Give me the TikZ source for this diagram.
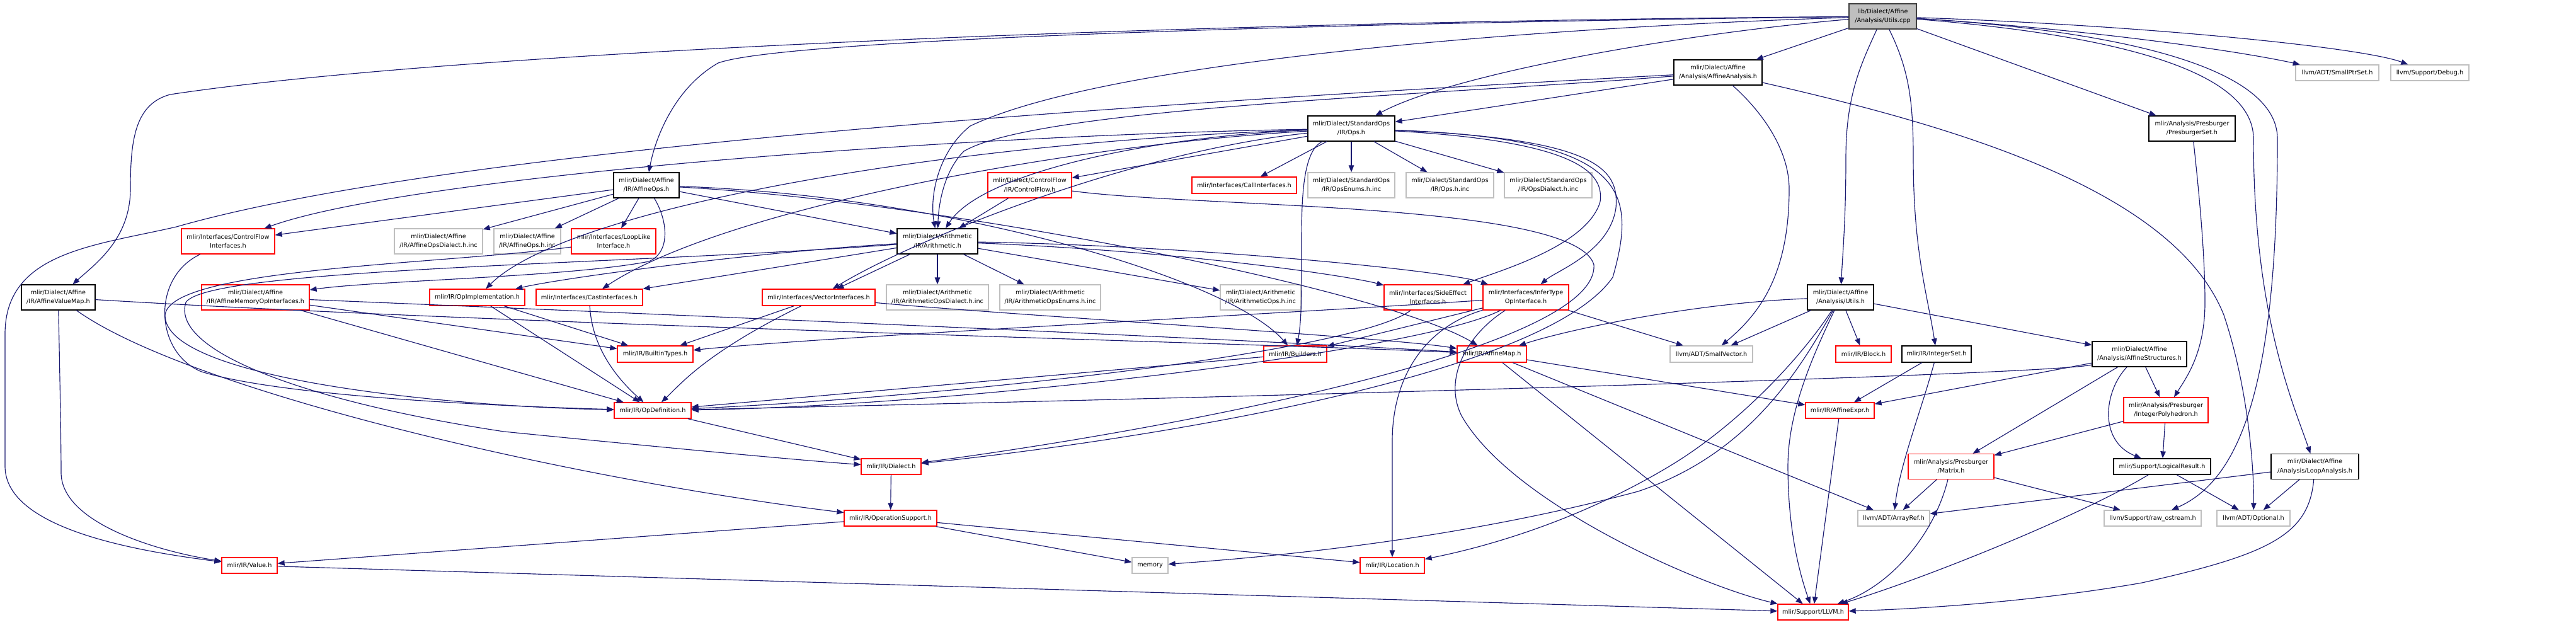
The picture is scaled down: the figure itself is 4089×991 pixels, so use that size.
\documentclass[tikz,border=0pt]{standalone}
\usepackage{fontspec}
\newfontfamily\dx{DejaVu Sans}
\usetikzlibrary{arrows.meta}
\definecolor{edgec}{HTML}{191970}
\definecolor{grayb}{HTML}{BFBFBF}
\definecolor{darkb}{HTML}{404040}
\tikzset{
  nbase/.style={inner sep=0pt, align=center, line width=1.3pt, font=\dx\fontsize{9.7pt}{14.5pt}\selectfont, fill=white},
  nb/.style={nbase, draw=black},
  nr/.style={nbase, draw=red},
  ng/.style={nbase, draw=grayb},
  rootst/.style={nbase, draw=darkb, fill=grayb},
  e/.style={draw=edgec, line width=1.15pt, -{Triangle[length=11pt,width=8.5pt]}, fill=none},
}
\newcommand\mknode[7]{\node[#1, minimum width=#5pt, minimum height=#6pt] (#2) at (#3,#4) {#7};}
\begin{document}
\begin{tikzpicture}[x=1pt,y=-1pt]
\useasboundingbox (0,0) rectangle (4089,991);
% nodes
\mknode{rootst}{R}{2988.5}{26}{107}{40}{lib/Dialect/Affine\\/Analysis/Utils.cpp}
\mknode{nb}{AA}{2727}{115}{140}{40}{mlir/Dialect/Affine\\/Analysis/AffineAnalysis.h}
\mknode{ng}{SPS}{3710}{115.5}{132}{25}{llvm/ADT/SmallPtrSet.h}
\mknode{ng}{DBG}{3857}{115.5}{124}{25}{llvm/Support/Debug.h}
\mknode{nb}{SO}{2145}{204}{138}{40}{mlir/Dialect/StandardOps\\/IR/Ops.h}
\mknode{nb}{PS}{3479.5}{204}{137}{40}{mlir/Analysis/Presburger\\/PresburgerSet.h}
\mknode{nb}{AO}{1026}{294}{104}{40}{mlir/Dialect/Affine\\/IR/AffineOps.h}
\mknode{nr}{CF}{1634.5}{294}{133}{40}{mlir/Dialect/ControlFlow\\/IR/ControlFlow.h}
\mknode{nr}{CI}{1975}{294}{166}{26}{mlir/Interfaces/CallInterfaces.h}
\mknode{ng}{SOE}{2145}{294}{138}{40}{mlir/Dialect/StandardOps\\/IR/OpsEnums.h.inc}
\mknode{ng}{SOI}{2301.5}{294}{139}{40}{mlir/Dialect/StandardOps\\/IR/Ops.h.inc}
\mknode{ng}{SOD}{2457.5}{294}{139}{40}{mlir/Dialect/StandardOps\\/IR/OpsDialect.h.inc}
\mknode{nr}{CFI}{362}{383}{148}{40}{mlir/Interfaces/ControlFlow\\Interfaces.h}
\mknode{ng}{AOD}{696}{383}{140}{40}{mlir/Dialect/Affine\\/IR/AffineOpsDialect.h.inc}
\mknode{ng}{AOI}{837}{383}{106}{40}{mlir/Dialect/Affine\\/IR/AffineOps.h.inc}
\mknode{nr}{LL}{974}{383}{134}{40}{mlir/Interfaces/LoopLike\\Interface.h}
\mknode{nb}{AR}{1488}{383}{128}{40}{mlir/Dialect/Arithmetic\\/IR/Arithmetic.h}
\mknode{nb}{AVM}{92.5}{472}{117}{40}{mlir/Dialect/Affine\\/IR/AffineValueMap.h}
\mknode{nr}{AMOI}{405.5}{472}{171}{40}{mlir/Dialect/Affine\\/IR/AffineMemoryOpInterfaces.h}
\mknode{nr}{OPI}{757.5}{472}{151}{26}{mlir/IR/OpImplementation.h}
\mknode{nr}{CAST}{935.5}{472}{169}{26}{mlir/Interfaces/CastInterfaces.h}
\mknode{nr}{VI}{1299.5}{472}{179}{26}{mlir/Interfaces/VectorInterfaces.h}
\mknode{ng}{ARD}{1488}{472}{162}{40}{mlir/Dialect/Arithmetic\\/IR/ArithmeticOpsDialect.h.inc}
\mknode{ng}{ARE}{1667}{472}{160}{40}{mlir/Dialect/Arithmetic\\/IR/ArithmeticOpsEnums.h.inc}
\mknode{ng}{ARO}{2001}{472}{128}{40}{mlir/Dialect/Arithmetic\\/IR/ArithmeticOps.h.inc}
\mknode{nr}{SE}{2266.5}{472}{139}{40}{mlir/Interfaces/SideEffect\\Interfaces.h}
\mknode{nr}{IT}{2422}{472}{136}{40}{mlir/Interfaces/InferType\\OpInterface.h}
\mknode{nb}{UH}{2921.5}{472}{105}{40}{mlir/Dialect/Affine\\/Analysis/Utils.h}
\mknode{nr}{BT}{1040}{562}{120}{26}{mlir/IR/BuiltinTypes.h}
\mknode{nr}{BLD}{2056}{562}{100}{26}{mlir/IR/Builders.h}
\mknode{nr}{AM}{2368}{562}{110}{26}{mlir/IR/AffineMap.h}
\mknode{ng}{SV}{2716.5}{562}{131}{26}{llvm/ADT/SmallVector.h}
\mknode{nr}{BLK}{2958}{562}{88}{26}{mlir/IR/Block.h}
\mknode{nb}{IS}{3074}{562}{110}{26}{mlir/IR/IntegerSet.h}
\mknode{nb}{AFS}{3396}{562}{150}{40}{mlir/Dialect/Affine\\/Analysis/AffineStructures.h}
\mknode{nr}{OD}{1036}{651.5}{122}{25}{mlir/IR/OpDefinition.h}
\mknode{nr}{AE}{2920.5}{651.5}{109}{25}{mlir/IR/AffineExpr.h}
\mknode{nr}{IP}{3438}{651}{134}{40}{mlir/Analysis/Presburger\\/IntegerPolyhedron.h}
\mknode{nr}{DIA}{1414.5}{740.5}{95}{25}{mlir/IR/Dialect.h}
\mknode{nr}{MAT}{3097}{740.5}{136}{40}{mlir/Analysis/Presburger\\/Matrix.h}
\mknode{nb}{LR}{3432}{740.5}{154}{25}{mlir/Support/LogicalResult.h}
\mknode{nb}{LA}{3674.5}{740.5}{139}{40}{mlir/Dialect/Affine\\/Analysis/LoopAnalysis.h}
\mknode{nr}{OS}{1413.5}{822.5}{147}{25}{mlir/IR/OperationSupport.h}
\mknode{ng}{AREF}{3006}{822.5}{114}{25}{llvm/ADT/ArrayRef.h}
\mknode{ng}{RO}{3417}{822.5}{154}{25}{llvm/Support/raw\_ostream.h}
\mknode{ng}{OPT}{3577}{822.5}{116}{25}{llvm/ADT/Optional.h}
\mknode{nr}{VAL}{396}{897.5}{88}{25}{mlir/IR/Value.h}
\mknode{ng}{MEM}{1825.5}{897.5}{57}{25}{memory}
\mknode{nr}{LOC}{2210}{897.5}{102}{25}{mlir/IR/Location.h}
\mknode{nr}{LLVM}{2878}{971.5}{112}{25}{mlir/Support/LLVM.h}
% edges from root
\draw[e] (R) -- (AA);
\draw[e] (R) .. controls (2650,55) and (2300,120) .. (SO);
\draw[e] (R) .. controls (2200,35) and (1250,60) .. (1140,100) .. controls (1070,140) and (1040,220) .. (AO);
\draw[e] (R) .. controls (1800,35) and (700,85) .. (270,150) .. controls (215,165) and (207,220) .. (207,300) .. controls (207,380) and (150,420) .. (AVM);
\draw[e] (R) .. controls (2400,45) and (1750,100) .. (1540,200) .. controls (1490,240) and (1475,310) .. (AR);
\draw[e] (R) .. controls (2955,100) and (2930,150) .. (2930,250) .. controls (2930,350) and (2925,400) .. (UH);
\draw[e] (R) .. controls (3030,110) and (3037,160) .. (3037,250) .. controls (3037,400) and (3060,470) .. (IS);
\draw[e] (R) -- (PS);
\draw[e] (R) .. controls (3300,45) and (3550,80) .. (SPS);
\draw[e] (R) .. controls (3400,40) and (3750,75) .. (DBG);
\draw[e] (R) .. controls (3350,55) and (3577,110) .. (3577,220) .. controls (3577,500) and (3640,640) .. (LA);
\draw[e] (R) .. controls (3380,50) and (3615,110) .. (3615,220) .. controls (3615,600) and (3560,760) .. (RO);
% AffineAnalysis
\draw[e] (AA) -- (SO);
\draw[e] (AA) .. controls (2300,150) and (1650,170) .. (1530,240) .. controls (1500,270) and (1490,320) .. (AR);
\draw[e] (AA) .. controls (1700,170) and (700,240) .. (280,360) .. controls (150,390) and (8,400) .. (8,530) -- (8,740) .. controls (8,840) and (220,875) .. (VAL);
\draw[e] (AA) .. controls (3100,200) and (3450,300) .. (3530,500) .. controls (3570,620) and (3578,750) .. (OPT);
\draw[e] (AA) .. controls (2800,180) and (2840,240) .. (2840,300) .. controls (2840,440) and (2790,500) .. (SV);
% StandardOps
\draw[e] (SO) -- (SOE);
\draw[e] (SO) -- (SOI);
\draw[e] (SO) -- (SOD);
\draw[e] (SO) .. controls (1850,215) and (1560,270) .. (AR);
\draw[e] (SO) -- (CF);
\draw[e] (SO) -- (CI);
\draw[e] (SO) .. controls (1500,215) and (650,280) .. (CFI);
\draw[e] (SO) .. controls (1700,230) and (1150,330) .. (CAST);
\draw[e] (SO) .. controls (1500,225) and (900,330) .. (OPI);
\draw[e] (SO) .. controls (1800,240) and (1450,380) .. (VI);
\draw[e] (SO) .. controls (2065,240) and (2066,330) .. (2066,400) .. controls (2066,470) and (2066,510) .. (BLD);
\draw[e] (SO) .. controls (2520,225) and (2545,280) .. (2540,320) .. controls (2520,390) and (2380,430) .. (SE);
\draw[e] (SO) .. controls (2540,220) and (2570,270) .. (2565,330) .. controls (2555,400) and (2470,430) .. (IT);
\draw[e] (SO) .. controls (2580,220) and (2600,300) .. (2560,440) .. controls (2450,600) and (1800,700) .. (DIA);
% ControlFlow
\draw[e] (CF) -- (AR);
\draw[e] (CF) .. controls (1900,330) and (2500,320) .. (2530,420) .. controls (2540,560) and (1800,690) .. (DIA);
% AffineOps
\draw[e] (AO) -- (AOD);
\draw[e] (AO) -- (AOI);
\draw[e] (AO) -- (LL);
\draw[e] (AO) -- (CFI);
\draw[e] (AO) -- (AR);
\draw[e] (AO) .. controls (1060,350) and (1065,400) .. (1030,415) .. controls (900,440) and (600,445) .. (AMOI);
\draw[e] (AO) .. controls (1500,320) and (2200,460) .. (AM);
\draw[e] (AO) .. controls (1500,310) and (1950,440) .. (BLD);
% Arithmetic
\draw[e] (AR) -- (ARD);
\draw[e] (AR) -- (ARE);
\draw[e] (AR) -- (ARO);
\draw[e] (AR) .. controls (1200,400) and (900,440) .. (OPI);
\draw[e] (AR) -- (CAST);
\draw[e] (AR) -- (VI);
\draw[e] (AR) .. controls (1000,420) and (330,425) .. (295,480) .. controls (270,560) and (500,640) .. (800,685) .. controls (1100,715) and (1300,733) .. (DIA);
\draw[e] (AR) .. controls (1900,400) and (2150,440) .. (SE);
\draw[e] (AR) .. controls (1900,390) and (2300,430) .. (IT);
% AffineMemoryOpInterfaces, AffineValueMap
\draw[e] (AMOI) .. controls (1200,505) and (2000,540) .. (AM);
\draw[e] (AMOI) -- (BT);
\draw[e] (AMOI) -- (OD);
\draw[e] (AVM) .. controls (800,515) and (2000,545) .. (AM);
\draw[e] (AVM) .. controls (300,620) and (900,760) .. (OS);
\draw[e] (AVM) .. controls (95,600) and (97,700) .. (97,750) .. controls (97,830) and (250,875) .. (VAL);
% interfaces
\draw[e] (OPI) -- (OD);
\draw[e] (OPI) -- (BT);
\draw[e] (CAST) .. controls (940,560) and (990,610) .. (OD);
\draw[e] (VI) -- (BT);
\draw[e] (VI) .. controls (1120,560) and (1080,610) .. (OD);
\draw[e] (VI) .. controls (1600,500) and (2200,535) .. (AM);
\draw[e] (CFI) .. controls (240,440) and (245,560) .. (320,590) .. controls (450,630) and (800,645) .. (OD);
\draw[e] (LL) .. controls (700,420) and (270,425) .. (262,500) .. controls (260,600) and (700,645) .. (OD);
\draw[e] (SE) .. controls (2150,560) and (1500,630) .. (OD);
\draw[e] (IT) .. controls (2250,560) and (1500,645) .. (OD);
\draw[e] (IT) .. controls (2000,500) and (1300,535) .. (BT);
\draw[e] (IT) -- (BLD);
\draw[e] (IT) .. controls (2260,520) and (2210,600) .. (2210,700) -- (LOC);
\draw[e] (IT) .. controls (2330,530) and (2290,600) .. (2320,660) .. controls (2400,800) and (2700,930) .. (LLVM);
\draw[e] (IT) -- (SV);
\draw[e] (BLD) -- (OD);
% Utils.h
\draw[e] (UH) .. controls (2700,480) and (2500,520) .. (AM);
\draw[e] (UH) -- (SV);
\draw[e] (UH) .. controls (2850,580) and (2750,680) .. (2650,740) .. controls (2500,830) and (2350,870) .. (LOC);
\draw[e] (UH) .. controls (2860,580) and (2780,720) .. (2600,780) .. controls (2300,860) and (2000,885) .. (MEM);
\draw[e] (UH) .. controls (2880,560) and (2838,650) .. (2838,740) .. controls (2838,850) and (2860,920) .. (LLVM);
\draw[e] (UH) -- (BLK);
\draw[e] (UH) -- (AFS);
% AffineStructures
\draw[e] (AFS) .. controls (3250,595) and (2000,630) .. (OD);
\draw[e] (AFS) -- (AE);
\draw[e] (AFS) -- (MAT);
\draw[e] (AFS) -- (IP);
\draw[e] (AFS) .. controls (3340,620) and (3330,700) .. (LR);
% IntegerSet, PresburgerSet, IntegerPolyhedron
\draw[e] (IS) -- (AE);
\draw[e] (IS) .. controls (3050,650) and (3015,740) .. (AREF);
\draw[e] (PS) .. controls (3490,300) and (3500,400) .. (3500,480) .. controls (3500,560) and (3470,600) .. (IP);
\draw[e] (IP) -- (MAT);
\draw[e] (IP) -- (LR);
% Matrix, LogicalResult, LoopAnalysis
\draw[e] (MAT) -- (AREF);
\draw[e] (MAT) .. controls (3070,850) and (3000,930) .. (LLVM);
\draw[e] (MAT) -- (RO);
\draw[e] (LR) .. controls (3300,820) and (3050,920) .. (LLVM);
\draw[e] (LR) -- (OPT);
\draw[e] (LA) -- (AREF);
\draw[e] (LA) -- (OPT);
\draw[e] (LA) .. controls (3665,850) and (3600,880) .. (3400,925) .. controls (3200,960) and (3000,968) .. (LLVM);
% AffineMap, AffineExpr
\draw[e] (AM) -- (AE);
\draw[e] (AM) -- (AREF);
\draw[e] (AM) -- (LLVM);
\draw[e] (AE) -- (LLVM);
% core IR
\draw[e] (OD) -- (DIA);
\draw[e] (DIA) -- (OS);
\draw[e] (OS) -- (VAL);
\draw[e] (OS) -- (MEM);
\draw[e] (OS) -- (LOC);
\draw[e] (VAL) -- (LLVM);
\end{tikzpicture}
\end{document}
